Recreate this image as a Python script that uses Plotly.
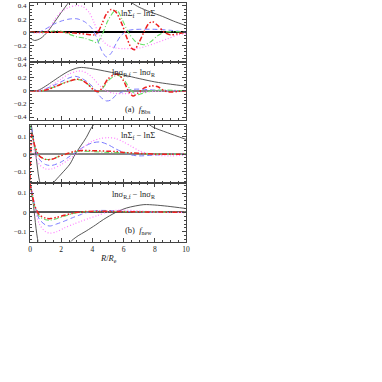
import plotly.graph_objects as go

# ---------------- data ----------------
# Panel 1: lnSigma_f - lnSigma, f_Bbs
p1_black_x = [0, 0.3, 0.7, 1.1, 1.5, 2.0, 2.5, 3.0, 4.0, 5.0, 6.0, 6.5, 7.0, 7.7, 8.5, 9.2, 10]
p1_black_y = [-0.09, -0.125, -0.09, 0.0, 0.13, 0.3, 0.46, 0.6, 0.7, 0.65, 0.52, 0.45, 0.38, 0.31, 0.24, 0.17, 0.1]
p1_blue_x = [0, 0.5, 1.0, 1.5, 2.0, 2.5, 3.0, 3.5, 4.0, 4.3, 4.6, 4.9, 5.2, 5.5, 5.8, 6.2, 6.6, 7.0, 8.0, 9.0, 10]
p1_blue_y = [0, -0.005, 0.05, 0.12, 0.17, 0.2, 0.205, 0.16, 0.05, -0.1, -0.28, -0.375, -0.32, -0.18, -0.06, 0.02, 0.04, 0.045, 0.045, 0.03, 0.0]
p1_mag_x = [0, 0.5, 1.0, 1.3, 1.6, 2.0, 2.5, 3.0, 3.4, 3.8, 4.1, 4.4, 4.7, 5.0, 5.5, 6.0, 7.0, 7.5, 8.0, 8.8, 9.5, 10]
p1_mag_y = [0, -0.01, -0.005, 0.08, 0.2, 0.31, 0.38, 0.405, 0.39, 0.3, 0.15, -0.02, -0.14, -0.2, -0.24, -0.25, -0.24, -0.21, -0.17, -0.1, -0.04, -0.02]
p1_green_x = [0, 1.0, 1.5, 2.0, 2.5, 3.0, 3.5, 4.0, 4.3, 4.6, 5.0, 5.4, 5.6, 5.9, 6.3, 6.8, 7.3, 7.7, 8.2, 8.6, 9.2, 10]
p1_green_y = [0, 0.0, 0.02, 0.015, -0.03, -0.07, -0.09, -0.13, -0.16, -0.05, 0.18, 0.32, 0.33, 0.2, 0.0, -0.15, -0.19, -0.15, -0.05, 0.0, 0.01, 0]
p1_red_x = [0, 1.0, 2.0, 3.0, 3.6, 4.1, 4.3, 4.6, 4.9, 5.2, 5.5, 5.9, 6.2, 6.5, 6.7, 7.0, 7.3, 7.6, 7.85, 8.2, 8.6, 9.0, 9.5, 10]
p1_red_y = [0, 0.0, 0.0, -0.015, -0.03, -0.04, -0.02, 0.12, 0.28, 0.345, 0.31, 0.12, -0.08, -0.24, -0.265, -0.15, 0.0, 0.13, 0.16, 0.1, 0.0, -0.04, -0.02, 0]

# Panel 2: lnsigma_Rf - lnsigma_R, f_Bbs
p2_black_x = [0, 0.5, 1.0, 1.5, 2.0, 2.5, 3.0, 3.3, 4.0, 5.0, 6.0, 7.0, 8.0, 9.0, 10]
p2_black_y = [0, 0.005, 0.07, 0.15, 0.23, 0.3, 0.345, 0.355, 0.335, 0.29, 0.24, 0.185, 0.135, 0.1, 0.07]
p2_blue_x = [0, 0.7, 1.0, 1.7, 2.5, 2.9, 3.3, 3.7, 4.1, 4.5, 4.9, 5.2, 5.5, 6.0, 6.5, 7.0, 8.0, 9.0, 10]
p2_blue_y = [0, 0.0, 0.03, 0.1, 0.195, 0.22, 0.19, 0.13, 0.04, -0.09, -0.155, -0.14, -0.07, -0.01, 0.02, 0.025, 0.01, 0, 0]
p2_mag_x = [0, 0.7, 1.0, 1.5, 2.0, 2.5, 3.0, 3.3, 3.7, 4.0, 4.5, 4.9, 5.3, 6.0, 7.0, 8.0, 9.0, 10]
p2_mag_y = [0, 0.0, 0.03, 0.1, 0.18, 0.255, 0.295, 0.3, 0.26, 0.2, 0.07, 0.0, -0.035, -0.045, -0.03, -0.01, 0, 0]
p2_green_x = [0, 0.8, 1.2, 1.7, 2.2, 2.7, 3.0, 3.3, 3.7, 4.1, 4.4, 4.7, 5.0, 5.4, 5.7, 6.0, 6.4, 6.8, 7.2, 7.8, 8.5, 10]
p2_green_y = [0, 0.0, 0.03, 0.07, 0.12, 0.16, 0.17, 0.16, 0.1, 0.01, -0.02, 0.05, 0.15, 0.22, 0.23, 0.18, 0.03, -0.06, -0.04, 0.0, 0.01, 0]
p2_red_x = [0, 0.8, 1.2, 1.7, 2.2, 2.7, 3.0, 3.3, 3.7, 4.1, 4.4, 4.7, 5.0, 5.4, 5.7, 6.0, 6.3, 6.6, 6.9, 7.3, 7.8, 8.2, 8.6, 9.0, 9.5, 10]
p2_red_y = [0, 0.0, 0.025, 0.07, 0.12, 0.16, 0.175, 0.165, 0.1, 0.01, -0.01, 0.07, 0.18, 0.245, 0.24, 0.15, 0.0, -0.08, -0.04, 0.04, 0.075, 0.06, 0.0, -0.02, -0.01, 0]

# Panel 3: lnSigma_f - lnSigma, f_new
p3_black_x = [0, 0.1, 0.37, 0.64, 1.0, 1.45, 2.0, 2.56, 2.9, 3.6, 4.0, 5.0, 6.0, 7.0, 7.8, 8.8, 10]
p3_black_y = [0.3, 0.16, 0.0, -0.165, -0.23, -0.17, -0.115, -0.057, 0.0, 0.095, 0.16, 0.25, 0.27, 0.22, 0.16, 0.124, 0.085]
p3_blue_x = [0, 0.1, 0.3, 0.6, 1.0, 1.4, 2.0, 2.5, 3.0, 3.5, 4.0, 4.5, 5.0, 5.5, 6.0, 6.5, 7.0, 8.0, 9.0, 10]
p3_blue_y = [0.2, 0.15, 0.05, -0.03, -0.06, -0.065, -0.045, -0.015, 0.015, 0.045, 0.065, 0.07, 0.055, 0.03, 0.01, -0.005, -0.01, -0.005, 0, 0]
p3_mag_x = [0, 0.1, 0.3, 0.6, 1.0, 1.4, 2.0, 2.5, 3.0, 3.5, 4.0, 4.5, 5.0, 5.5, 6.0, 6.5, 7.0, 7.5, 8.0, 9.0, 10]
p3_mag_y = [0.2, 0.1, 0.0, -0.06, -0.085, -0.085, -0.06, -0.03, 0.005, 0.045, 0.075, 0.09, 0.095, 0.09, 0.07, 0.045, 0.02, 0.005, -0.005, -0.01, -0.005]
p3_green_x = [0, 0.1, 0.3, 0.6, 1.0, 1.4, 1.8, 2.3, 2.8, 3.2, 4.0, 5.0, 6.0, 7.0, 8.0, 9.0, 10]
p3_green_y = [0.17, 0.12, 0.04, -0.01, -0.03, -0.028, -0.015, 0.0, 0.012, 0.017, 0.015, 0.01, 0.008, 0.004, 0.0, 0, 0]
p3_red_x = [0, 0.05, 0.12, 0.3, 0.6, 1.0, 1.4, 1.8, 2.3, 2.8, 3.2, 4.0, 5.0, 5.5, 6.0, 7.0, 8.0, 9.0, 10]
p3_red_y = [-0.15, 0.0, 0.12, 0.05, -0.01, -0.03, -0.03, -0.015, 0.0, 0.015, 0.02, 0.02, 0.017, 0.015, 0.01, 0.005, 0, 0, 0]

# Panel 4: lnsigma_Rf - lnsigma_R, f_new
p4_black_x = [0, 0.2, 0.53, 1.0, 1.5, 2.0, 2.56, 3.0, 3.6, 4.2, 4.7, 5.5, 6.2, 7.3, 8.0, 8.8, 10]
p4_black_y = [0.15, 0.05, -0.155, -0.26, -0.29, -0.25, -0.155, -0.125, -0.096, -0.065, -0.037, 0.0, 0.023, 0.04, 0.038, 0.032, 0.02]
p4_blue_x = [0, 0.1, 0.3, 0.6, 1.0, 1.3, 1.7, 2.2, 2.8, 3.3, 3.8, 4.5, 5.5, 6.5, 8.0, 10]
p4_blue_y = [0.15, 0.12, 0.04, -0.035, -0.065, -0.07, -0.06, -0.045, -0.025, -0.01, 0.003, 0.01, 0.008, 0.004, 0, 0]
p4_mag_x = [0, 0.1, 0.3, 0.6, 1.0, 1.3, 1.7, 2.2, 2.8, 3.3, 3.8, 4.3, 5.0, 5.5, 6.0, 7.0, 8.0, 9.0, 10]
p4_mag_y = [0.15, 0.12, 0.03, -0.06, -0.1, -0.107, -0.1, -0.08, -0.06, -0.045, -0.03, -0.017, 0.003, 0.01, 0.012, 0.008, 0.003, 0, 0]
p4_green_x = [0, 0.1, 0.3, 0.6, 1.0, 1.3, 1.7, 2.2, 2.8, 3.5, 4.5, 6.0, 8.0, 10]
p4_green_y = [0.15, 0.11, 0.03, -0.02, -0.038, -0.04, -0.033, -0.02, -0.005, 0.003, 0.005, 0.004, 0.002, 0]
p4_red_x = [0, 0.1, 0.3, 0.6, 1.0, 1.3, 1.7, 2.2, 2.8, 3.5, 4.5, 6.0, 8.0, 10]
p4_red_y = [0.15, 0.11, 0.035, -0.012, -0.03, -0.032, -0.026, -0.015, -0.003, 0.004, 0.006, 0.004, 0.002, 0]

x_ticks = [0, 2, 4, 6, 8, 10]
big_ticks = [-0.4, -0.2, 0, 0.2, 0.4]
big_labels = ["\u22120.4", "\u22120.2", "0", "0.2", "0.4"]
small_ticks = [-0.1, 0, 0.1]
small_labels = ["\u22120.1", "0", "0.1"]

panel_labels = ["ln\u03a3<sub>f</sub> \u2212 ln\u03a3",
                "ln\u03c3<sub>R,f</sub> \u2212 ln\u03c3<sub>R</sub>",
                "ln\u03a3<sub>f</sub> \u2212 ln\u03a3",
                "ln\u03c3<sub>R,f</sub> \u2212 ln\u03c3<sub>R</sub>"]
case_labels = ["(a)  <i>f</i><sub>Bbs</sub>", "(b)  <i>f</i><sub>new</sub>"]

# ---------------- styling ----------------
W = H = 382
FONT = "Liberation Serif"
TXT = "#222222"
styles = {
    "black": dict(color="#444444", width=0.9, dash="solid"),
    "blue": dict(color="#7b7bff", width=1.0, dash="5px,3px"),
    "mag": dict(color="#ff80ff", width=1.2, dash="1px,2px"),
    "green": dict(color="#66e066", width=1.1, dash="5px,2px,1px,2px"),
    "red": dict(color="#ee2020", width=1.5, dash="5px,2px,1.5px,2px,1.5px,2px"),
}

panels = [
    dict(data=[("black", p1_black_x, p1_black_y), ("blue", p1_blue_x, p1_blue_y), ("mag", p1_mag_x, p1_mag_y),
               ("green", p1_green_x, p1_green_y), ("red", p1_red_x, p1_red_y)],
         top=3, bot=61.5, rng=[-0.445, 0.445], tv=big_ticks, tt=big_labels, minor=0.05, zc="#000000"),
    dict(data=[("black", p2_black_x, p2_black_y), ("blue", p2_blue_x, p2_blue_y), ("mag", p2_mag_x, p2_mag_y),
               ("green", p2_green_x, p2_green_y), ("red", p2_red_x, p2_red_y)],
         top=61.5, bot=120, rng=[-0.445, 0.445], tv=big_ticks, tt=big_labels, minor=0.05, zc="#888888"),
    dict(data=[("black", p3_black_x, p3_black_y), ("blue", p3_blue_x, p3_blue_y), ("mag", p3_mag_x, p3_mag_y),
               ("green", p3_green_x, p3_green_y), ("red", p3_red_x, p3_red_y)],
         top=125, bot=183.3, rng=[-0.168, 0.168], tv=small_ticks, tt=small_labels, minor=0.02, zc="#888888"),
    dict(data=[("black", p4_black_x, p4_black_y), ("blue", p4_blue_x, p4_blue_y), ("mag", p4_mag_x, p4_mag_y),
               ("green", p4_green_x, p4_green_y), ("red", p4_red_x, p4_red_y)],
         top=183.3, bot=241.5, rng=[-0.15, 0.15], tv=small_ticks, tt=small_labels, minor=0.02, zc="#555555"),
]


def px_x(px):
    return px / W


def px_y(py):
    return 1 - py / H


fig = go.Figure()
layout = dict(template="none", width=W, height=H, autosize=False, margin=dict(l=0, r=0, t=0, b=0, pad=0),
              paper_bgcolor="white", plot_bgcolor="white", showlegend=False,
              font=dict(family=FONT, size=8, color=TXT))
annotations = []

for i, p in enumerate(panels, start=1):
    xa = "x" if i == 1 else f"x{i}"
    ya = "y" if i == 1 else f"y{i}"
    for key, xs, ys in p["data"]:
        fig.add_trace(go.Scatter(x=xs, y=ys, mode="lines", xaxis=xa, yaxis=ya,
                                 line=dict(shape="spline", smoothing=0.8, **styles[key]),
                                 hoverinfo="skip", cliponaxis=True))
    dom_y = [px_y(p["bot"]), px_y(p["top"])]
    xname = "xaxis" if i == 1 else f"xaxis{i}"
    yname = "yaxis" if i == 1 else f"yaxis{i}"
    layout[xname] = dict(domain=[px_x(30), px_x(186)], anchor=ya, range=[0, 10], tickvals=x_ticks,
                         showticklabels=(i == 4), ticks="inside", ticklen=4, tickcolor="#444",
                         minor=dict(ticks="inside", ticklen=2, dtick=0.5, tickcolor="#444"),
                         showline=True, linecolor="#444", linewidth=1, mirror="allticks",
                         showgrid=False, zeroline=False,
                         tickfont=dict(family=FONT, size=7.5, color=TXT))
    if i > 1:
        layout[xname]["matches"] = "x"
    layout[yname] = dict(domain=dom_y, anchor=xa, range=p["rng"], tickvals=p["tv"], ticktext=p["tt"],
                         ticks="inside", ticklen=4, tickcolor="#444",
                         minor=dict(ticks="inside", ticklen=2, dtick=p["minor"], tickcolor="#444"),
                         showline=True, linecolor="#444", linewidth=1, mirror="allticks",
                         showgrid=False, zeroline=True, zerolinecolor=p["zc"], zerolinewidth=2,
                         tickfont=dict(family=FONT, size=7, color=TXT), ticklabelstandoff=1)
    annotations.append(dict(text=panel_labels[i - 1], x=px_x(157), y=px_y(p["top"] + 11),
                            xref="paper", yref="paper", xanchor="right", yanchor="middle",
                            showarrow=False, font=dict(family=FONT, size=8.5, color=TXT)))
    if i in (2, 4):
        annotations.append(dict(text=case_labels[i // 2 - 1], x=px_x(123), y=px_y(p["bot"] - 11),
                                xref="paper", yref="paper", xanchor="left", yanchor="middle",
                                showarrow=False, font=dict(family=FONT, size=8.5, color=TXT)))

annotations.append(dict(text="<i>R</i>/<i>R</i><sub>e</sub>", x=px_x(108), y=px_y(258),
                        xref="paper", yref="paper", xanchor="center", yanchor="middle",
                        showarrow=False, font=dict(family=FONT, size=8.5, color=TXT)))
layout["annotations"] = annotations
fig.update_layout(**layout)
# remove the default page margin so the figure sits at the window corner
fig.write_html("out.html", config={"displayModeBar": False, "staticPlot": True},
               post_script="document.body.style.margin='0px';")
